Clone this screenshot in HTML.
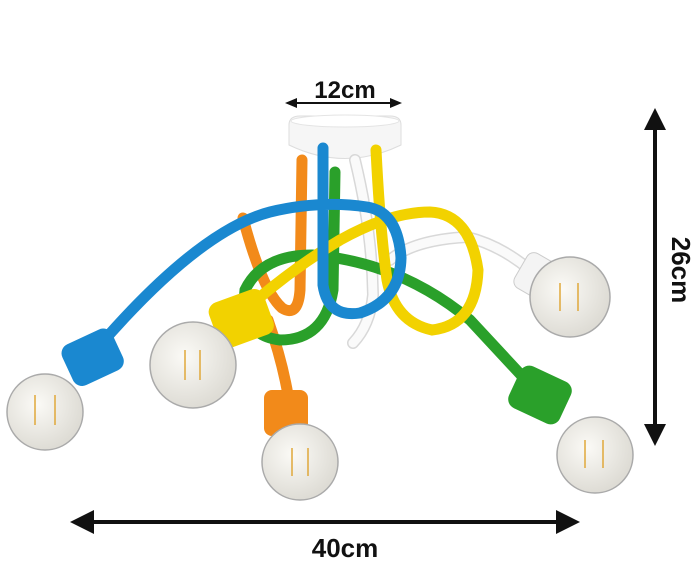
<!DOCTYPE html>
<html><head><meta charset="utf-8"><style>
html,body{margin:0;padding:0;background:#fff;}
svg{display:block}
text{font-family:"Liberation Sans",sans-serif;font-weight:bold;fill:#111}
</style></head><body>
<svg width="700" height="583" viewBox="0 0 700 583" xmlns="http://www.w3.org/2000/svg">
<defs>
<radialGradient id="bulb" cx="40%" cy="40%" r="60%"><stop offset="0" stop-color="#fbfaf6"/><stop offset="1" stop-color="#dedcd5"/></radialGradient>
</defs>
<!-- dimension arrows -->
<text x="345" y="98" font-size="24" text-anchor="middle">12cm</text>
<line x1="292" y1="103" x2="396" y2="103" stroke="#111" stroke-width="2"/>
<path d="M402,103 l-12,-5 v10z M285,103 l12,-5 v10z" fill="#111"/>
<line x1="655" y1="125" x2="655" y2="430" stroke="#111" stroke-width="4"/>
<path d="M655,108 l-11,22 h22z M655,446 l-11,-22 h22z" fill="#111"/>
<text x="0" y="0" font-size="26" text-anchor="middle" transform="translate(672,270) rotate(90)">26cm</text>
<line x1="90" y1="522" x2="560" y2="522" stroke="#111" stroke-width="4"/>
<path d="M70,522 l24,-12 v24z M580,522 l-24,-12 v24z" fill="#111"/>
<text x="345" y="557" font-size="26" text-anchor="middle">40cm</text>
<!-- canopy -->
<path d="M289,125 Q289,116 300,116 H390 Q401,116 401,125 V145 Q345,172 289,145 Z" fill="#f6f6f6" stroke="#ddd"/>
<ellipse cx="345" cy="121" rx="54" ry="6" fill="#fff" stroke="#e4e4e4"/>
<g fill="none" stroke-linecap="round" stroke-width="11">
<!-- white -->
<g>
<path d="M355,160 Q372,230 373,295 Q370,325 353,343 M390,260 Q413,240 467,237 Q500,245 530,270" stroke="#d8d8d8" stroke-width="12"/>
<path d="M355,160 Q372,230 373,295 Q370,325 353,343 M390,260 Q413,240 467,237 Q500,245 530,270" stroke="#fafafa" stroke-width="9"/>
</g>
<!-- orange back -->
<path d="M302,160 L300,290 Q298,318 282,308 Q262,290 243,218 M268,320 Q282,360 288,395" stroke="#f28a1a"/>
<!-- green -->
<path d="M335,172 L333,290 Q325,340 280,340 Q240,335 245,290 Q262,255 312,255 Q400,262 470,320 L535,390" stroke="#2aa02a"/>
<!-- yellow -->
<path d="M376,150 Q380,230 387,280 Q395,322 432,330 Q476,325 478,270 Q470,214 430,212 Q390,212 340,240 Q290,270 245,310" stroke="#f2d200"/>
<!-- blue -->
<path d="M323,148 L323,285 Q328,318 360,313 Q400,300 401,258 Q398,212 367,207 Q320,200 270,212 Q200,230 100,345" stroke="#1a88d0"/>
</g>
<!-- sockets -->
<rect x="65" y="335" width="55" height="45" rx="10" fill="#1a88d0" transform="rotate(-25 92 357)"/>
<rect x="212" y="295" width="58" height="48" rx="10" fill="#f2d200" transform="rotate(-20 240 318)"/>
<rect x="264" y="390" width="44" height="46" rx="8" fill="#f28a1a"/>
<rect x="512" y="372" width="56" height="46" rx="10" fill="#2aa02a" transform="rotate(25 540 395)"/>
<rect x="518" y="258" width="44" height="40" rx="8" fill="#f4f4f4" stroke="#ccc" transform="rotate(30 540 278)"/>
<!-- bulbs -->
<g fill="url(#bulb)" stroke="#aaa" stroke-width="1.5">
<circle cx="45" cy="412" r="38"/>
<circle cx="193" cy="365" r="43"/>
<circle cx="300" cy="462" r="38"/>
<circle cx="570" cy="297" r="40"/>
<circle cx="595" cy="455" r="38"/>
</g>
<g stroke="#e0a83a" stroke-width="1.5" fill="none">
<path d="M35,395 v30 M55,395 v30"/><path d="M185,350 v30 M200,350 v30"/>
<path d="M292,448 v28 M308,448 v28"/><path d="M560,283 v28 M578,283 v28"/>
<path d="M585,440 v28 M603,440 v28"/>
</g>
</svg>
</body></html>
